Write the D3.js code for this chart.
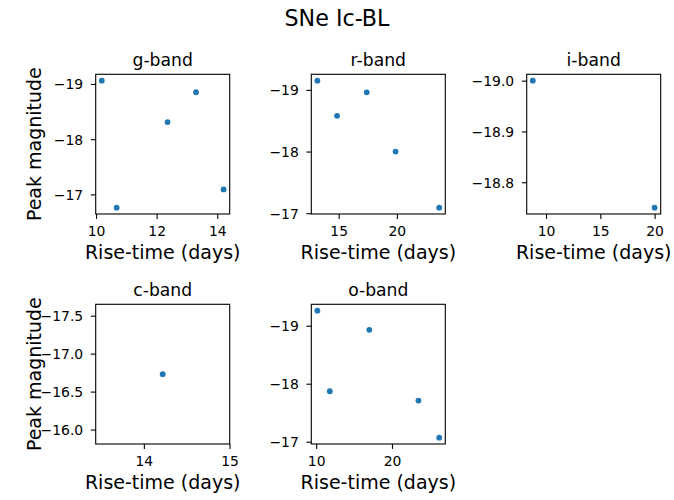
<!DOCTYPE html>
<html>
<head>
<meta charset="utf-8">
<script src="https://cdn.jsdelivr.net/npm/d3@7"></script>
<style>
  html, body { margin: 0; padding: 0; background: #fff; }
  svg { display: block; font-family: "DejaVu Sans", sans-serif; }
</style>
</head>
<body>
<svg id="chart" width="674" height="500"></svg>
<script>
// Peak magnitude vs rise-time for broad-lined Type Ic supernovae, per band
const bands = ["g-band", "r-band", "i-band", "c-band", "o-band"];

const gRise = [10.19, 10.68, 12.36, 13.30, 14.21];
const gPeak = [-19.06, -16.76, -18.31, -18.85, -17.09];

const rRise = [13.17, 14.86, 17.41, 19.89, 23.64];
const rPeak = [-19.15, -18.58, -18.96, -18.00, -17.09];

const iRise = [8.78, 20.0];
const iPeak = [-19.0, -18.75];

const cRise = [14.22];
const cPeak = [-16.73];

const oRise = [10.16, 11.80, 17.01, 23.49, 26.23];
const oPeak = [-19.26, -17.87, -18.93, -17.71, -17.07];

const gXTicks = [10, 12, 14], gYTicks = [-19, -18, -17];
const rXTicks = [15, 20],     rYTicks = [-19, -18, -17];
const iXTicks = [10, 15, 20], iYTicks = [-19.0, -18.9, -18.8];
const cXTicks = [14, 15],     cYTicks = [-17.5, -17.0, -16.5, -16.0];
const oXTicks = [10, 20],     oYTicks = [-19, -18, -17];

const figTitle = "SNe Ic-BL";
const xLabel = "Rise-time (days)";
const yLabel = "Peak magnitude";

const panels = [
  { name: bands[0], x: gRise, y: gPeak, xt: gXTicks, yt: gYTicks, yDec: 0, col: 0, row: 0 },
  { name: bands[1], x: rRise, y: rPeak, xt: rXTicks, yt: rYTicks, yDec: 0, col: 1, row: 0 },
  { name: bands[2], x: iRise, y: iPeak, xt: iXTicks, yt: iYTicks, yDec: 1, col: 2, row: 0 },
  { name: bands[3], x: cRise, y: cPeak, xt: cXTicks, yt: cYTicks, yDec: 1, col: 0, row: 1 },
  { name: bands[4], x: oRise, y: oPeak, xt: oXTicks, yt: oYTicks, yDec: 0, col: 1, row: 1 }
];

// grid geometry
const colLeft = [95.7, 311.3, 526.7];
const rowTop = [74.3, 304.3];
const axW = 134, axH = 139.7;

const blue = "#1f77b4";
const tickFs = 13.9, titleFs = 17.2, labelFs = 19, supFs = 22.2;

// autoscale with 5% margins; a lone value is expanded by 5% of its magnitude first
function autoDomain(vals) {
  let lo = d3.min(vals), hi = d3.max(vals);
  if (lo === hi) {
    const e = lo === 0 ? 0.05 : 0.05 * Math.abs(lo);
    lo -= e; hi += e;
  }
  const m = 0.05 * (hi - lo);
  return [lo - m, hi + m];
}

const fmtMinus = (v, dec) => {
  const s = Math.abs(v).toFixed(dec);
  return (v < 0 ? "\u2212" : "") + s;
};

const svg = d3.select("#chart");

svg.append("text")
  .attr("x", 337).attr("y", 26)
  .attr("text-anchor", "middle")
  .attr("font-size", supFs)
  .attr("fill", "#000")
  .text(figTitle);

panels.forEach(p => {
  const left = colLeft[p.col], top = rowTop[p.row];
  const xs = d3.scaleLinear().domain(autoDomain(p.x)).range([0, axW]);
  const yd = autoDomain(p.y);
  // magnitudes: brighter (more negative) at the top
  const yInv = d3.scaleLinear().domain([yd[0], yd[1]]).range([0, axH]);

  const g = svg.append("g").attr("transform", `translate(${left},${top})`);

  // points
  g.selectAll("circle.pt")
    .data(p.x.map((v, i) => [v, p.y[i]]))
    .join("circle")
    .attr("class", "pt")
    .attr("cx", d => xs(d[0]))
    .attr("cy", d => yInv(d[1]))
    .attr("r", 2.9)
    .attr("fill", blue);

  // x axis
  const xa = g.append("g").attr("transform", `translate(0,${axH})`)
    .call(d3.axisBottom(xs).tickValues(p.xt).tickSize(4.9).tickPadding(0).tickFormat(d => d3.format("d")(d)));
  xa.select(".domain").remove();
  xa.selectAll(".tick line").attr("stroke", "#000").attr("stroke-width", 1.1);
  xa.selectAll(".tick text")
    .attr("font-size", tickFs).attr("font-family", "DejaVu Sans")
    .attr("fill", "#000").attr("dy", null).attr("y", 21.5);

  // y axis
  const ya = g.append("g")
    .call(d3.axisLeft(yInv).tickValues(p.yt).tickSize(4.9).tickPadding(0).tickFormat(d => fmtMinus(d, p.yDec)));
  ya.select(".domain").remove();
  ya.selectAll(".tick line").attr("stroke", "#000").attr("stroke-width", 1.1);
  ya.selectAll(".tick text")
    .attr("font-size", tickFs).attr("font-family", "DejaVu Sans")
    .attr("fill", "#000").attr("dy", null).attr("x", -12.5).attr("y", 5);

  // frame
  g.append("rect")
    .attr("x", 0).attr("y", 0).attr("width", axW).attr("height", axH)
    .attr("fill", "none").attr("stroke", "#000").attr("stroke-width", 1.1);

  // panel title
  g.append("text")
    .attr("x", axW / 2).attr("y", -8.3)
    .attr("text-anchor", "middle")
    .attr("font-size", titleFs).attr("fill", "#000")
    .text(p.name);

  // x label
  g.append("text")
    .attr("x", axW / 2).attr("y", axH + 45)
    .attr("text-anchor", "middle")
    .attr("font-size", labelFs).attr("fill", "#000")
    .text(xLabel);

  // y label on first column
  if (p.col === 0) {
    g.append("text")
      .attr("transform", `translate(${41 - left},${axH / 2}) rotate(-90)`)
      .attr("text-anchor", "middle")
      .attr("font-size", labelFs).attr("fill", "#000")
      .text(yLabel);
  }
});
</script>
</body>
</html>
